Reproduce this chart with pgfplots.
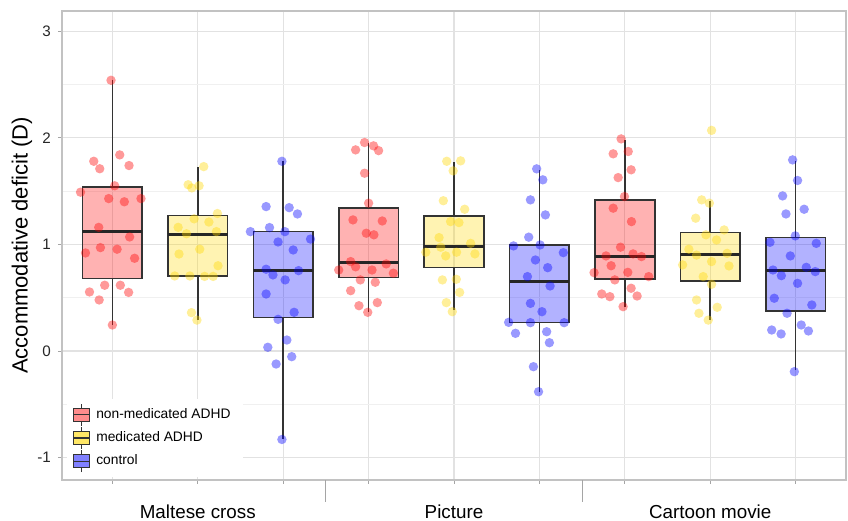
\documentclass[border=0pt]{standalone}
\usepackage{fontspec}
\setmainfont{Liberation Sans}
\usepackage{pgfplots}
\usepackage{pgfplotstable}
\pgfplotsset{compat=1.18}
\usepgfplotslibrary{statistics}
\definecolor{gridmaj}{HTML}{E2E2E2}
\definecolor{gridmin}{HTML}{F0F0F0}
\definecolor{frame}{HTML}{C2C2C2}
\definecolor{cred}{HTML}{FF0000}
\definecolor{cyel}{HTML}{FFD700}
\definecolor{cblu}{HTML}{0000FF}
\definecolor{boxline}{HTML}{333333}

\pgfplotstableread{
x y
0.984 2.54
0.782 1.78
0.852 1.71
1.086 1.84
1.195 1.74
1.027 1.55
0.627 1.49
0.957 1.43
1.14 1.40
1.335 1.43
0.84 1.16
1.202 1.07
0.86 0.97
1.055 0.955
0.685 0.92
1.26 0.87
0.91 0.617
1.093 0.617
0.732 0.554
1.19 0.55
0.845 0.479
1.0 0.244
}\Ga
\pgfplotstableread{
x y
2.07 1.73
1.93 1.53
1.887 1.56
2.015 1.55
1.957 1.24
2.23 1.29
2.13 1.21
1.77 1.16
1.868 1.10
2.218 1.12
2.023 0.955
1.78 0.91
2.237 0.80
1.73 0.704
1.907 0.704
2.08 0.70
2.18 0.70
1.926 0.36
1.99 0.29
}\Gb
\pgfplotstableread{
x y
2.985 1.78
2.80 1.355
3.07 1.345
3.167 1.286
2.616 1.12
2.84 1.158
3.02 1.12
3.32 1.05
2.94 1.023
3.117 0.948
2.80 0.767
2.88 0.714
3.023 0.667
3.18 0.754
2.80 0.535
3.128 0.363
2.94 0.297
3.043 0.103
2.82 0.035
3.10 -0.053
2.917 -0.122
2.985 -0.83
}\Gc
\pgfplotstableread{
x y
3.953 1.956
3.848 1.887
4.058 1.925
4.117 1.88
3.953 1.668
4.0 1.387
3.817 1.23
4.16 1.22
3.973 1.105
4.062 1.09
3.79 0.839
3.848 0.79
3.65 0.76
4.04 0.76
4.206 0.817
4.29 0.73
3.903 0.667
4.078 0.645
3.79 0.566
3.887 0.425
4.102 0.454
3.99 0.363
}\Gd
\pgfplotstableread{
x y
4.915 1.78
5.078 1.784
4.99 1.69
4.875 1.41
5.125 1.33
4.96 1.214
5.058 1.205
4.825 1.064
4.845 0.974
4.67 0.927
5.03 0.927
4.903 0.892
5.195 1.01
5.245 0.911
4.864 0.667
5.027 0.673
5.066 0.55
4.91 0.454
4.98 0.369
}\Ge
\pgfplotstableread{
x y
5.968 1.709
6.04 1.606
5.895 1.418
6.07 1.277
5.875 1.068
5.697 0.986
6.008 0.995
6.28 0.923
5.953 0.854
6.097 0.782
5.86 0.698
6.125 0.61
5.895 0.447
6.03 0.369
5.64 0.269
5.895 0.266
6.29 0.266
5.72 0.166
6.085 0.181
6.117 0.078
5.93 -0.147
5.99 -0.382
}\Gf
\pgfplotstableread{
x y
6.957 1.99
6.864 1.85
7.04 1.872
7.074 1.70
6.922 1.627
6.996 1.449
6.864 1.34
7.078 1.214
6.95 0.974
6.78 0.892
7.097 0.911
7.195 0.886
6.84 0.80
7.035 0.738
6.64 0.735
7.28 0.698
6.883 0.667
7.074 0.589
6.73 0.535
6.825 0.51
7.144 0.516
6.98 0.416
}\Gg
\pgfplotstableread{
x y
8.016 2.07
7.9 1.418
7.99 1.387
7.83 1.246
8.163 1.136
7.95 1.09
8.074 1.042
7.75 0.955
7.84 0.90
8.198 0.916
7.677 0.808
8.016 0.839
8.22 0.798
7.918 0.698
8.016 0.626
7.84 0.479
8.082 0.41
7.868 0.354
7.977 0.29
}\Gh
\pgfplotstableread{
x y
8.965 1.793
9.023 1.60
8.848 1.455
9.10 1.33
8.887 1.286
8.996 1.08
8.70 1.02
9.242 1.01
8.938 0.892
8.735 0.76
9.125 0.785
9.23 0.745
8.833 0.707
9.023 0.635
8.75 0.495
9.19 0.432
8.90 0.354
9.066 0.244
8.72 0.197
8.83 0.16
9.15 0.188
8.985 -0.194
}\Gi

\pgfplotsset{
  legkey/.style={legend image code/.code={%
    \draw[boxline, line width=0.6pt] (4pt,-5.5pt) -- (4pt,5.5pt);
    \draw[boxline, line width=0.6pt, fill=#1] (0pt,-3.2pt) rectangle (8pt,3.2pt);
    \draw[boxline, line width=0.6pt] (0pt,0pt) -- (8pt,0pt);
  }},
  bx/.style={forget plot, draw=boxline, line width=0.8pt, fill=#1, fill opacity=0.3,
    boxplot/draw direction=y,
    boxplot/box extend=0.7, boxplot/whisker extend=0,
    boxplot/every median/.style={line width=1.5pt, draw=black!85}},
  pts/.style={forget plot, only marks, mark=*, mark size=2.35pt,
    draw=none, draw opacity=0, fill=#1, fill opacity=0.4,
    mark options={draw=none, draw opacity=0, fill=#1, fill opacity=0.4}},
}

\begin{document}
\begin{tikzpicture}
\begin{axis}[
  scale only axis, width=392pt, height=234.5pt,
  xmin=0.41, xmax=9.59, ymin=-1.21, ymax=3.19,
  xtick={1,...,9},
  xticklabels={,Maltese cross,,,Picture,,,Cartoon movie,},
  ytick={-1,0,1,2,3}, yticklabels={-1,0,1,2,3},
  minor ytick={-0.5,0.5,1.5,2.5},
  grid=both,
  major grid style={gridmaj, line width=0.6pt},
  minor grid style={gridmin, line width=0.4pt},
  axis line style={frame, line width=0.6pt},
  tick pos=left, tick align=outside,
  major tick length=2pt, minor tick length=0pt,
  every tick/.style={frame!85!black, line width=0.5pt},
  extra x ticks={3.5,6.5}, extra x tick labels={},
  extra x tick style={major tick length=11pt, grid=none},
  xticklabel style={font=\fontsize{9.4}{11}\selectfont, yshift=-7pt},
  yticklabel style={font=\fontsize{7.6}{9}\selectfont, black!85},
  ylabel={Accommodative deficit (D)},
  ylabel style={font=\fontsize{11}{13}\selectfont, at={(axis description cs:-0.051,0.5)}, anchor=center},
  legend cell align=left,
  legend style={at={(axis description cs:0.006,0.006)}, anchor=south west,
    draw=none, fill=white, font=\fontsize{6.9}{8}\selectfont,
    inner xsep=3pt, inner ysep=2pt, row sep=0pt,
    nodes={inner xsep=3pt}},
]
\addplot[bx=cred, boxplot prepared={lower whisker=0.244, lower quartile=0.68, median=1.117, upper quartile=1.54, upper whisker=2.54, draw position=1}] coordinates {};
\addplot[bx=cyel, boxplot prepared={lower whisker=0.29, lower quartile=0.704, median=1.095, upper quartile=1.27, upper whisker=1.725, draw position=2}] coordinates {};
\addplot[bx=cblu, boxplot prepared={lower whisker=-0.83, lower quartile=0.313, median=0.754, upper quartile=1.12, upper whisker=1.78, draw position=3}] coordinates {};
\addplot[bx=cred, boxplot prepared={lower whisker=0.369, lower quartile=0.688, median=0.83, upper quartile=1.34, upper whisker=1.956, draw position=4}] coordinates {};
\addplot[bx=cyel, boxplot prepared={lower whisker=0.385, lower quartile=0.782, median=0.977, upper quartile=1.268, upper whisker=1.77, draw position=5}] coordinates {};
\addplot[bx=cblu, boxplot prepared={lower whisker=-0.382, lower quartile=0.266, median=0.654, upper quartile=0.995, upper whisker=1.70, draw position=6}] coordinates {};
\addplot[bx=cred, boxplot prepared={lower whisker=0.416, lower quartile=0.676, median=0.886, upper quartile=1.418, upper whisker=1.98, draw position=7}] coordinates {};
\addplot[bx=cyel, boxplot prepared={lower whisker=0.29, lower quartile=0.657, median=0.904, upper quartile=1.111, upper whisker=1.408, draw position=8}] coordinates {};
\addplot[bx=cblu, boxplot prepared={lower whisker=-0.178, lower quartile=0.376, median=0.754, upper quartile=1.064, upper whisker=1.787, draw position=9}] coordinates {};

\addplot[pts=cred] table {\Ga};
\addplot[pts=cyel] table {\Gb};
\addplot[pts=cblu] table {\Gc};
\addplot[pts=cred] table {\Gd};
\addplot[pts=cyel] table {\Ge};
\addplot[pts=cblu] table {\Gf};
\addplot[pts=cred] table {\Gg};
\addplot[pts=cyel] table {\Gh};
\addplot[pts=cblu] table {\Gi};

\addlegendimage{legkey=cred!45}
\addlegendentry{non-medicated ADHD}
\addlegendimage{legkey=cyel!60}
\addlegendentry{medicated ADHD}
\addlegendimage{legkey=cblu!50}
\addlegendentry{control}
\end{axis}
\pgfresetboundingbox
\path[use as bounding box] ([xshift=-31pt,yshift=-20.5pt]current axis.south west) rectangle ([xshift=1pt,yshift=5.5pt]current axis.north east);
\end{tikzpicture}
\end{document}
